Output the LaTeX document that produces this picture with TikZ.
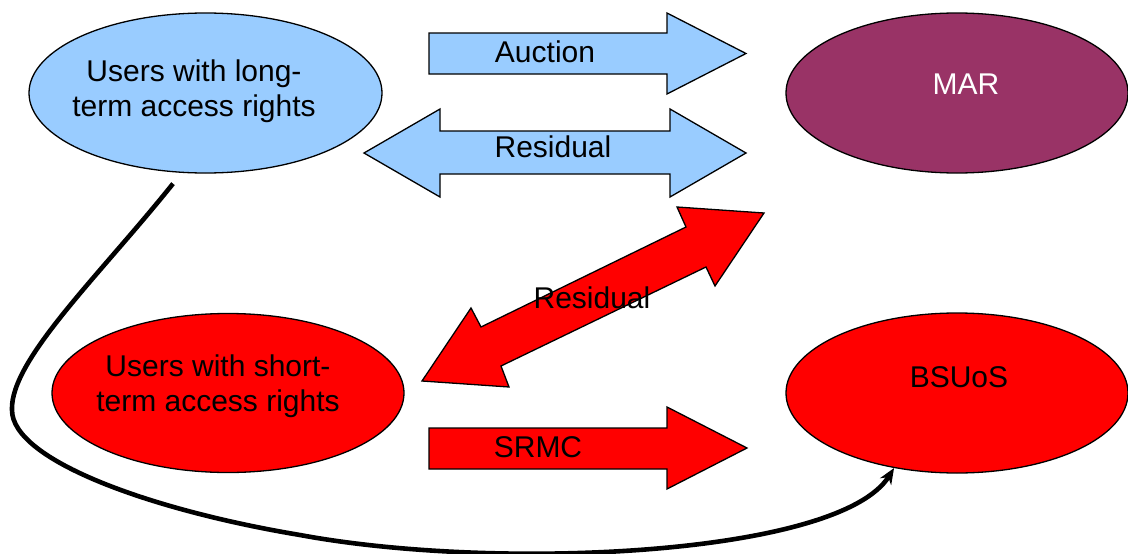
\documentclass[tikz,border=0pt]{standalone}
\usepackage{fontspec}
\setmainfont{Liberation Sans}
\usetikzlibrary{shapes.geometric,arrows.meta}
\definecolor{skyfill}{HTML}{99CCFF}
\definecolor{plum}{HTML}{993366}
\definecolor{hotred}{HTML}{FF0000}
\begin{document}
\begin{tikzpicture}[x=1pt,y=-1pt,
  bubble/.style={ellipse,draw=black,line width=1.3pt,inner sep=0pt},
  caption/.style={inner sep=0pt,font=\fontsize{30}{35}\selectfont,align=center},
  blockarrow/.style={draw=black,line width=1.3pt,line join=miter},
  flow/.style={line width=4.6pt,-{Stealth[length=16pt,width=13pt]}}
]
\useasboundingbox (0,0) rectangle (1128,554);

% participants
\node[bubble,fill=skyfill,minimum width=353pt,minimum height=160pt] (long) at (205.5,93) {};
\node[caption] (longtext) at (194,91.5) {Users with long-\\term access rights};

\node[bubble,fill=plum,minimum width=342pt,minimum height=160pt] (mar) at (957,93) {};
\node[caption,text=white] (martext) at (966,84) {MAR};

\node[bubble,fill=hotred,minimum width=352pt,minimum height=159pt] (short) at (228,393) {};
\node[caption] (shorttext) at (218,386.5) {Users with short-\\term access rights};

\node[bubble,fill=hotred,minimum width=342pt,minimum height=160pt] (bsuos) at (957,393) {};
\node[caption] (bsuostext) at (959,377) {BSUoS};

% block arrows between the parties
\draw[blockarrow,fill=skyfill] (429,33) -- (667,33) -- (667,13) -- (746,53.5)
  -- (667,94) -- (667,74) -- (429,74) -- cycle;
\node[caption] (auction) at (545,52) {Auction};

\draw[blockarrow,fill=skyfill] (364,153) -- (440,109) -- (440,131) -- (670,131)
  -- (670,109) -- (746,153) -- (670,197) -- (670,174) -- (440,174) -- (440,197) -- cycle;
\node[caption] (residualtop) at (553,147) {Residual};

\draw[blockarrow,fill=hotred] (764,213) -- (677,207) -- (686,227) -- (481,327)
  -- (471,308) -- (422,381) -- (509,387) -- (501,366) -- (706,267) -- (715,286) -- cycle;
\node[caption] (residualdiag) at (592,298) {Residual};

\draw[blockarrow,fill=hotred] (429,428) -- (667,428) -- (667,407) -- (747,448)
  -- (667,489) -- (667,469) -- (429,469) -- cycle;
\node[caption] (srmc) at (538,447.5) {SRMC};

% long-term users also pay BSUoS
\coordinate (curvestart) at ([xshift=-32.5pt,yshift=-10pt]long.south);
\draw[flow] (curvestart) .. controls (100,275) and (10,360) .. (12,410)
  .. controls (12,460) and (150,510) .. (300,535)
  .. controls (500,572) and (840,555) .. (bsuos.230);
\end{tikzpicture}
\end{document}
